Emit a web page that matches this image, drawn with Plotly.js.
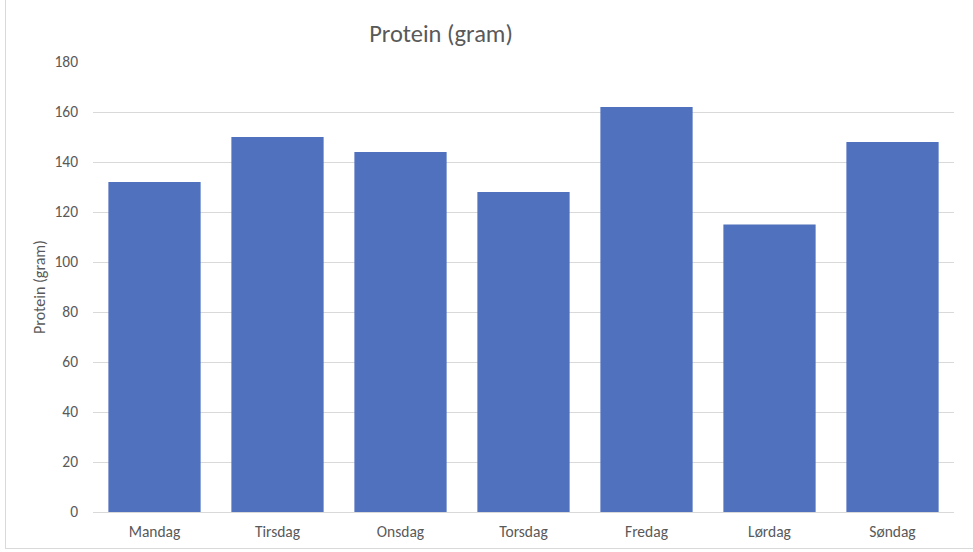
<!DOCTYPE html>
<html>
<head>
<meta charset="utf-8">
<script src="https://cdn.plot.ly/plotly-3.0.1.min.js"></script>
<style>
html,body{margin:0;padding:0;background:#fff;}
#wrap{position:relative;width:973px;height:552px;}
#chart{width:973px;height:552px;}
#frame{position:absolute;left:5px;top:0;width:968px;height:548px;border-left:1px solid #d9d9d9;border-bottom:1px solid #d9d9d9;pointer-events:none;}
</style>
</head>
<body>
<div id="wrap"><div id="chart"></div><div id="frame"></div></div>
<script>
const days = ["Mandag","Tirsdag","Onsdag","Torsdag","Fredag","Lørdag","Søndag"];
const protein = [132, 150, 144, 128, 162, 115, 148];
const yTicks = [0,20,40,60,80,100,120,140,160,180];

const font = "Calibri, Carlito, 'Open Sans', 'Liberation Sans', sans-serif";
const trace = {
  type: "bar",
  x: days,
  y: protein,
  marker: {color: "#4F71BE"},
  hoverinfo: "x+y"
};
const layout = {
  width: 973, height: 552,
  margin: {l: 93, r: 19, t: 62, b: 40},
  paper_bgcolor: "#fff",
  plot_bgcolor: "#fff",
  bargap: 0.25,
  showlegend: false,
  font: {family: font, color: "#595959", size: 15},
  title: {
    text: "Protein (gram)",
    font: {family: font, size: 24.5, color: "#595959"},
    x: 441/973, xref: "container", xanchor: "center",
    y: 1 - 33/552, yref: "container", yanchor: "middle"
  },
  xaxis: {
    type: "category",
    showgrid: false,
    showline: true,
    linecolor: "#d9d9d9",
    linewidth: 1,
    ticks: "",
    tickfont: {family: font, size: 15.5, color: "#595959"},
    ticklabelstandoff: 5,
    fixedrange: true
  },
  yaxis: {
    range: [0, 180],
    tickvals: yTicks,
    ticktext: yTicks.map(String),
    showgrid: true,
    gridcolor: "#d9d9d9",
    gridwidth: 1,
    zeroline: false,
    showline: false,
    ticks: "",
    ticklabelstandoff: 14,
    tickfont: {family: font, size: 15.5, color: "#595959"},
    title: {text: "Protein (gram)", font: {family: font, size: 16, color: "#595959"}, standoff: 4},
    fixedrange: true
  }
};
Plotly.newPlot("chart", [trace], layout, {displayModeBar: false, staticPlot: true});
</script>
</body>
</html>
